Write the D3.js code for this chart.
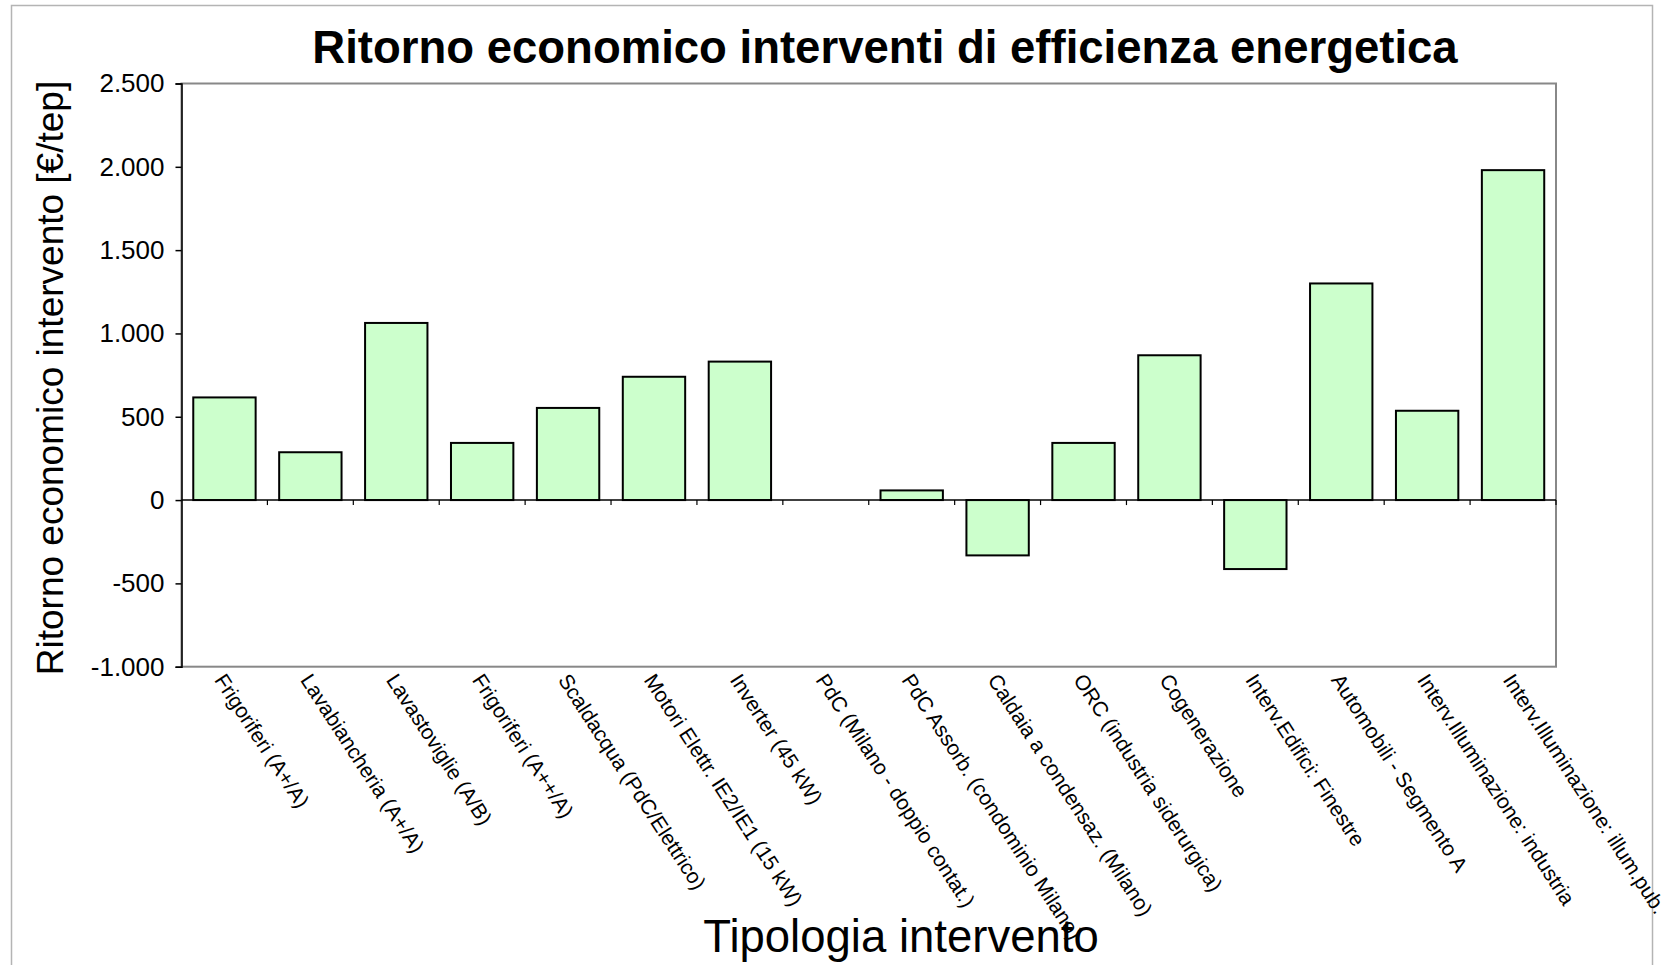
<!DOCTYPE html>
<html>
<head>
<meta charset="utf-8">
<script src="https://cdn.jsdelivr.net/npm/d3@7"></script>
<style>
  html, body { margin: 0; padding: 0; background: #fff; }
  svg { display: block; font-family: "Liberation Sans", Arial, sans-serif; }
</style>
</head>
<body>
<svg id="chart" width="1662" height="965"></svg>
<script>
const categories = [
  "Frigoriferi (A+/A)",
  "Lavabiancheria (A+/A)",
  "Lavastoviglie (A/B)",
  "Frigoriferi (A++/A)",
  "Scaldacqua (PdC/Elettrico)",
  "Motori Elettr. IE2/IE1 (15 kW)",
  "Inverter (45 kW)",
  "PdC (Milano - doppio contat.)",
  "PdC Assorb. (condominio Milano)",
  "Caldaia a condensaz. (Milano)",
  "ORC (industria siderurgica)",
  "Cogenerazione",
  "Interv.Edifici: Finestre",
  "Automobili - Segmento A",
  "Interv.Illuminazione: industria",
  "Interv.Illuminazione: illum.pub."
];
const values = [616, 287, 1063, 343, 553, 740, 831, 0, 58, -332, 343, 869, -414, 1300, 536, 1980];
const yTicks = [-1000, -500, 0, 500, 1000, 1500, 2000, 2500];
const yTickLabels = ["-1.000", "-500", "0", "500", "1.000", "1.500", "2.000", "2.500"];
const titleText = "Ritorno economico interventi di efficienza energetica";
const yTitle = "Ritorno economico intervento [€/tep]";
const xTitle = "Tipologia intervento";

const svg = d3.select("#chart");
const plot = { left: 181.5, right: 1556, top: 83.5, bottom: 666.7 };

// outer chart border
svg.append("rect")
  .attr("x", 11.5).attr("y", 5.5)
  .attr("width", 1652.5 - 11.5).attr("height", 1000)
  .attr("fill", "none").attr("stroke", "#b4b4b4").attr("stroke-width", 1.5);

const x = d3.scaleBand()
  .domain(categories)
  .range([plot.left, plot.right])
  .paddingInner(0.274)
  .paddingOuter(0.137);

const y = d3.scaleLinear()
  .domain([-1000, 2500])
  .range([plot.bottom, plot.top]);

// plot frame (gray)
svg.append("rect")
  .attr("x", plot.left).attr("y", plot.top)
  .attr("width", plot.right - plot.left).attr("height", plot.bottom - plot.top)
  .attr("fill", "#fff").attr("stroke", "#888").attr("stroke-width", 2);

// bars
svg.append("g").selectAll("rect")
  .data(values)
  .join("rect")
  .attr("x", (d, i) => x(categories[i]))
  .attr("width", x.bandwidth())
  .attr("y", d => y(Math.max(0, d)))
  .attr("height", d => Math.abs(y(d) - y(0)))
  .attr("fill", "#ccffcc")
  .attr("stroke", d => d === 0 ? "none" : "#000")
  .attr("stroke-width", 2);

// y axis
const yAxis = d3.axisLeft(y)
  .tickValues(yTicks)
  .tickFormat((d, i) => yTickLabels[i])
  .tickSize(6)
  .tickPadding(11);
const gy = svg.append("g")
  .attr("transform", `translate(${plot.left},0)`)
  .call(yAxis);
gy.select(".domain").attr("stroke", "#000").attr("stroke-width", 1.5);
gy.selectAll(".tick line").attr("stroke", "#000").attr("stroke-width", 1.5);
gy.selectAll(".tick text")
  .attr("font-size", 26)
  .attr("fill", "#000")
  .attr("font-family", "'Liberation Sans', Arial, sans-serif");

// zero line with boundary ticks
const boundaries = categories.map(c => x(c) - x.step() * x.paddingInner() / 2);
boundaries.push(plot.right);
const zeroG = svg.append("g");
zeroG.append("line")
  .attr("x1", plot.left).attr("x2", plot.right)
  .attr("y1", y(0)).attr("y2", y(0))
  .attr("stroke", "#000").attr("stroke-width", 1.5);
zeroG.selectAll("line.tk")
  .data(boundaries.slice(1))
  .join("line")
  .attr("class", "tk")
  .attr("x1", d => d).attr("x2", d => d)
  .attr("y1", y(0)).attr("y2", y(0) + 5)
  .attr("stroke", "#000").attr("stroke-width", 1.2);

// category labels
svg.append("g").selectAll("text")
  .data(categories)
  .join("text")
  .attr("transform", d => `translate(${x(d) + x.bandwidth() / 2 + 2},${plot.bottom + 5}) rotate(57)`)
  .attr("dy", "0.72em")
  .attr("text-anchor", "start")
  .attr("font-size", 21)
  .attr("fill", "#000")
  .text(d => d);

// title
svg.append("text")
  .attr("x", 885).attr("y", 63)
  .attr("text-anchor", "middle")
  .attr("font-size", 45.5)
  .attr("font-weight", "bold")
  .attr("fill", "#000")
  .text(titleText);

// y title
svg.append("text")
  .attr("transform", `translate(63,378) rotate(-90)`)
  .attr("text-anchor", "middle")
  .attr("font-size", 37)
  .attr("fill", "#000")
  .text(yTitle);

// x title
svg.append("text")
  .attr("x", 901).attr("y", 952)
  .attr("text-anchor", "middle")
  .attr("font-size", 45.5)
  .attr("fill", "#000")
  .text(xTitle);
</script>
</body>
</html>
